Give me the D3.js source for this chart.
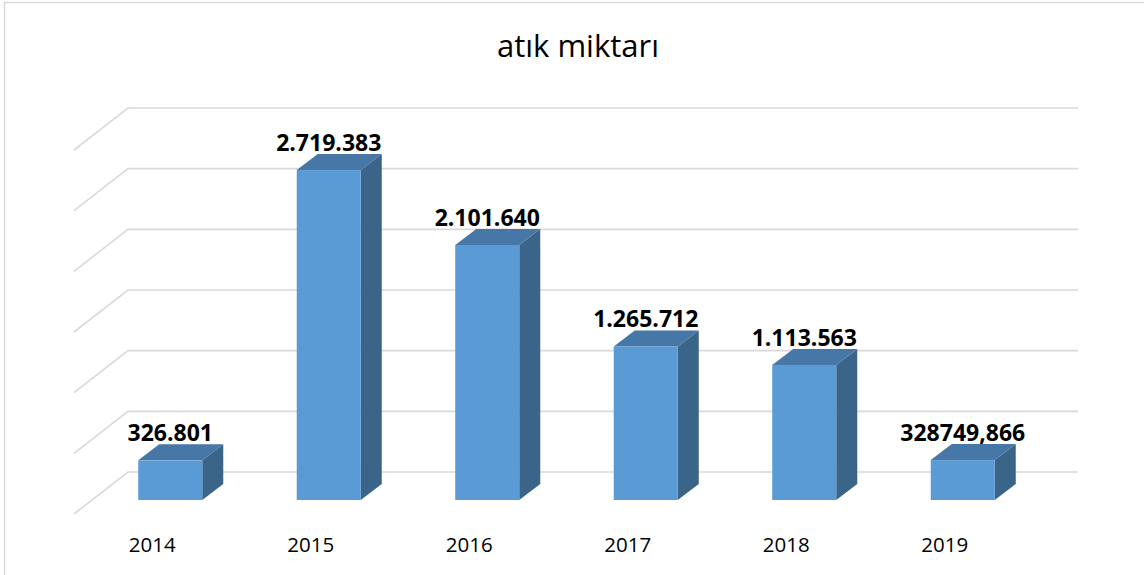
<!DOCTYPE html>
<html>
<head>
<meta charset="utf-8">
<script src="https://cdn.jsdelivr.net/npm/d3@7"></script>
<style>
  body { margin: 0; background: #fff; }
  svg { display: block; }
</style>
</head>
<body>
<div id="chart"></div>
<script>
// data
const years = ["2014", "2015", "2016", "2017", "2018", "2019"];
const values = [326801, 2719383, 2101640, 1265712, 1113563, 328749.866];
const valueLabels = ["326.801", "2.719.383", "2.101.640", "1.265.712", "1.113.563", "328749,866"];
const gridTicks = [0, 500000, 1000000, 1500000, 2000000, 2500000, 3000000];

const W = 1144, H = 575;

const svg = d3.select("#chart").append("svg")
    .attr("width", W)
    .attr("height", H);

// chart border (only left and top edges show)
svg.append("path")
    .attr("d", `M4.5,${H} L4.5,2.5 L${W},2.5`)
    .attr("fill", "none")
    .attr("stroke", "#d9d9d9")
    .attr("stroke-width", 1.5);

// 3D geometry
const wallDx = 54, wallDy = 42;   // side wall depth
const barDx = 21, barDy = 16;     // bar depth
const backLeft = 128, backRight = 1078;

// value scales: back wall and bar front plane
const yBack = d3.scaleLinear().domain([0, 3000000]).range([472, 108]);
const yFront = d3.scaleLinear().domain([0, 3000000]).range([500, 136]);

const x = d3.scaleBand()
    .domain(years)
    .range([91, 1042])
    .paddingInner(0.596)
    .paddingOuter(0.298);

// gridlines: back wall + side wall
const grid = svg.append("g")
    .attr("fill", "none")
    .attr("stroke", "#d9d9d9")
    .attr("stroke-width", 1.6);

grid.selectAll("path")
    .data(gridTicks)
    .enter().append("path")
    .attr("d", d => {
        const y = yBack(d);
        return `M${backLeft - wallDx},${y + wallDy} L${backLeft},${y} L${backRight},${y}`;
    });

// bars
const bars = svg.append("g")
    .selectAll("g")
    .data(years.map((y, i) => ({ year: y, value: values[i], label: valueLabels[i] })))
    .enter().append("g");

bars.each(function(d) {
    const g = d3.select(this);
    const x0 = x(d.year), x1 = x0 + x.bandwidth();
    const yt = yFront(d.value), yb = yFront(0);

    // side face
    g.append("path")
        .attr("d", `M${x1},${yt} L${x1 + barDx},${yt - barDy} L${x1 + barDx},${yb - barDy} L${x1},${yb} Z`)
        .attr("fill", "#3b6489");
    // top face
    g.append("path")
        .attr("d", `M${x0},${yt} L${x0 + barDx},${yt - barDy} L${x1 + barDx},${yt - barDy} L${x1},${yt} Z`)
        .attr("fill", "#4677a6");
    // front face
    g.append("rect")
        .attr("x", x0)
        .attr("y", yt)
        .attr("width", x.bandwidth())
        .attr("height", yb - yt)
        .attr("fill", "#5b9bd5");

    // value label
    g.append("text")
        .attr("x", x0 + x.bandwidth() / 2)
        .attr("y", yt - barDy - 3)
        .attr("text-anchor", "middle")
        .style("font-family", "'Open Sans', sans-serif")
        .style("font-weight", "bold")
        .style("font-size", "23px")
        .style("fill", "#000")
        .text(d.label);
});

// category labels
svg.append("g")
    .selectAll("text")
    .data(years)
    .enter().append("text")
    .attr("x", d => x(d) + x.bandwidth() / 2 - 18)
    .attr("y", 552)
    .attr("text-anchor", "middle")
    .style("font-family", "'Open Sans', sans-serif")
    .style("font-size", "20.5px")
    .style("fill", "#000")
    .text(d => d);

// title
svg.append("text")
    .attr("x", 578)
    .attr("y", 57)
    .attr("text-anchor", "middle")
    .style("font-family", "'Open Sans', sans-serif")
    .style("font-size", "31px")
    .style("fill", "#000")
    .text("atık miktarı");
</script>
</body>
</html>
